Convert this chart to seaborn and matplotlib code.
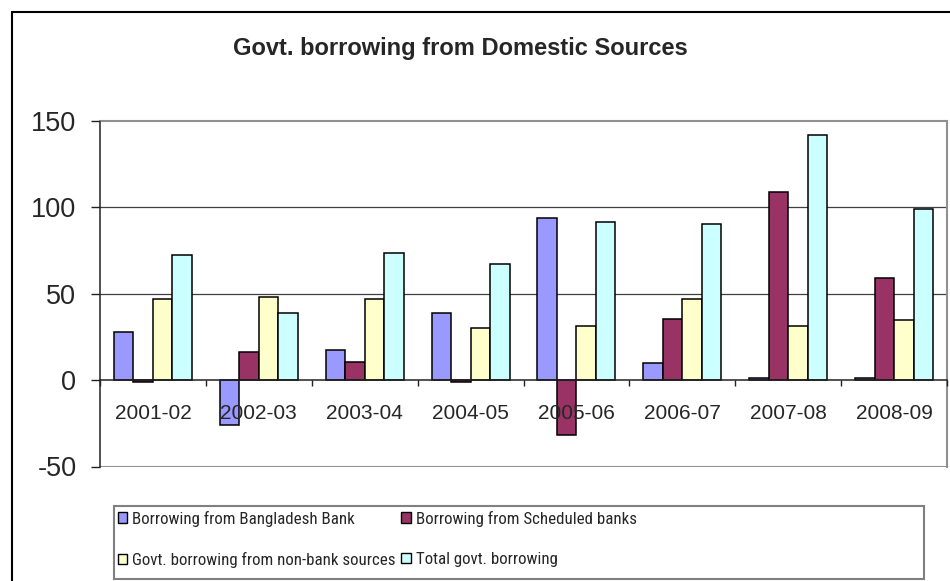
import matplotlib
matplotlib.use("Agg")
import matplotlib.pyplot as plt
from matplotlib import font_manager
from matplotlib.patches import Rectangle
from matplotlib.lines import Line2D
import numpy as np
import pandas as pd
import seaborn as sns

# Fiscal years and borrowing series (billion Tk)
years = ["2001-02", "2002-03", "2003-04", "2004-05",
         "2005-06", "2006-07", "2007-08", "2008-09"]
bangladesh_bank = [28, -26, 17.5, 38.5, 93.5, 10, 1, 1]
scheduled_banks = [-1, 16.5, 10.5, -1, -32, 35.5, 109, 59]
non_bank = [47, 48, 47, 30, 31.5, 47, 31.5, 34.5]
total = [72.5, 38.5, 73.5, 67, 91.5, 90.5, 141.5, 99]

series_names = ["Borrowing from Bangladesh Bank",
                "Borrowing from Scheduled banks",
                "Govt. borrowing from non-bank sources",
                "Total govt. borrowing"]
series_values = [bangladesh_bank, scheduled_banks, non_bank, total]
colors = ["#9999FF", "#993366", "#FFFFCC", "#CCFFFF"]
y_ticks = [-50, 0, 50, 100, 150]

df = pd.DataFrame({
    "year": np.tile(years, len(series_names)),
    "series": np.repeat(series_names, len(years)),
    "value": np.concatenate(series_values),
})

sns.set_style("white")
available = {f.name for f in font_manager.fontManager.ttflist}
base_font = "Liberation Sans" if "Liberation Sans" in available else "DejaVu Sans"
narrow_font = None
for cand in ["Liberation Sans Narrow", "Arial Narrow", "Roboto Condensed"]:
    if cand in available:
        narrow_font = cand
        break
plt.rcParams["font.family"] = [base_font, "DejaVu Sans"]

W, H = 950, 581
fig = plt.figure(figsize=(W / 100, H / 100), dpi=100)
fig.patch.set_facecolor("white")

def fx(px):
    return px / W

def fy(py):
    return 1 - py / H

ax = fig.add_axes([fx(100), fy(466.5), fx(947) - fx(100), fy(120.7) - fy(466.5)])

sns.barplot(data=df, x="year", y="value", hue="series", hue_order=series_names,
            order=years, palette=colors, width=0.737, gap=0, errorbar=None,
            edgecolor="black", linewidth=1.1, saturation=1, ax=ax)

handles, labels = ax.get_legend_handles_labels()
if ax.get_legend() is not None:
    ax.get_legend().remove()

ax.set_xlim(-0.5, len(years) - 0.5)
ax.set_ylim(-50, 150)
ax.set_xlabel("")
ax.set_ylabel("")

# gridlines behind the bars; axis labels stay on top
ax.set_yticks(y_ticks)
ax.yaxis.grid(False)
ax.set_axisbelow(False)
for v in y_ticks:
    if v not in (0, y_ticks[0], y_ticks[-1]):
        ax.axhline(v, color="#404040", linewidth=0.9, zorder=0.5)
ax.axhline(y_ticks[0], color="#909090", linewidth=1.5, zorder=0.5)

# plot area border
for side in ["top", "right"]:
    ax.spines[side].set_visible(True)
    ax.spines[side].set_color("#909090")
    ax.spines[side].set_linewidth(1.5)
ax.spines["left"].set_color("#222222")
ax.spines["left"].set_linewidth(1.1)
ax.spines["bottom"].set_position(("data", 0))
ax.spines["bottom"].set_color("#222222")
ax.spines["bottom"].set_linewidth(1.1)

# y axis ticks
ax.tick_params(axis="y", direction="out", length=6.5, width=1, color="#222222",
               pad=10.5, labelsize=19.5, left=True)
ax.set_yticklabels([str(v) for v in y_ticks])

# x axis: ticks at category boundaries, labels centred on categories
ax.set_xticks(np.arange(-0.5, len(years) + 0.5, 1.0))
ax.set_xticklabels([])
ax.set_xticks(np.arange(len(years)), minor=True)
ax.set_xticklabels(years, minor=True)
ax.tick_params(axis="x", which="major", direction="out", length=4.5, width=1,
               color="#222222", bottom=True)
ax.tick_params(axis="x", which="minor", length=0, pad=17, labelsize=15, bottom=True)

# title
fig.text(fx(460), fy(48), "Govt. borrowing from Domestic Sources",
         ha="center", va="center", fontsize=17, fontweight="bold")

# legend with its own box, filled row by row
leg_x0, leg_y0, leg_x1, leg_y1 = 114, 505.7, 924, 579
fig.patches.append(Rectangle((fx(leg_x0), fy(leg_y1)), fx(leg_x1) - fx(leg_x0),
                             fy(leg_y0) - fy(leg_y1), transform=fig.transFigure,
                             facecolor="white", edgecolor="#808080", linewidth=1.5))
order = [0, 2, 1, 3]
if narrow_font:
    leg_prop = {"family": [narrow_font, base_font], "size": 12.2}
else:
    leg_prop = {"family": [base_font], "size": 11.5}
leg = fig.legend([handles[i] for i in order], [labels[i] for i in order],
                 loc="upper left", bbox_to_anchor=(fx(104), fy(497)), ncol=2,
                 frameon=False, prop=leg_prop,
                 handlelength=0.55, handleheight=0.55, handletextpad=0.3,
                 columnspacing=0.35, labelspacing=1.5, borderpad=0.3)
for h in leg.legend_handles:
    h.set_edgecolor("black")
    h.set_linewidth(1)

# outer chart frame
fig.add_artist(Line2D([fx(12), fx(12)], [fy(12), 0], transform=fig.transFigure,
                      color="black", linewidth=1.5))
fig.add_artist(Line2D([fx(12), 1], [fy(12), fy(12)], transform=fig.transFigure,
                      color="black", linewidth=1.5))

fig.savefig("out.png", dpi=100, facecolor="white")
